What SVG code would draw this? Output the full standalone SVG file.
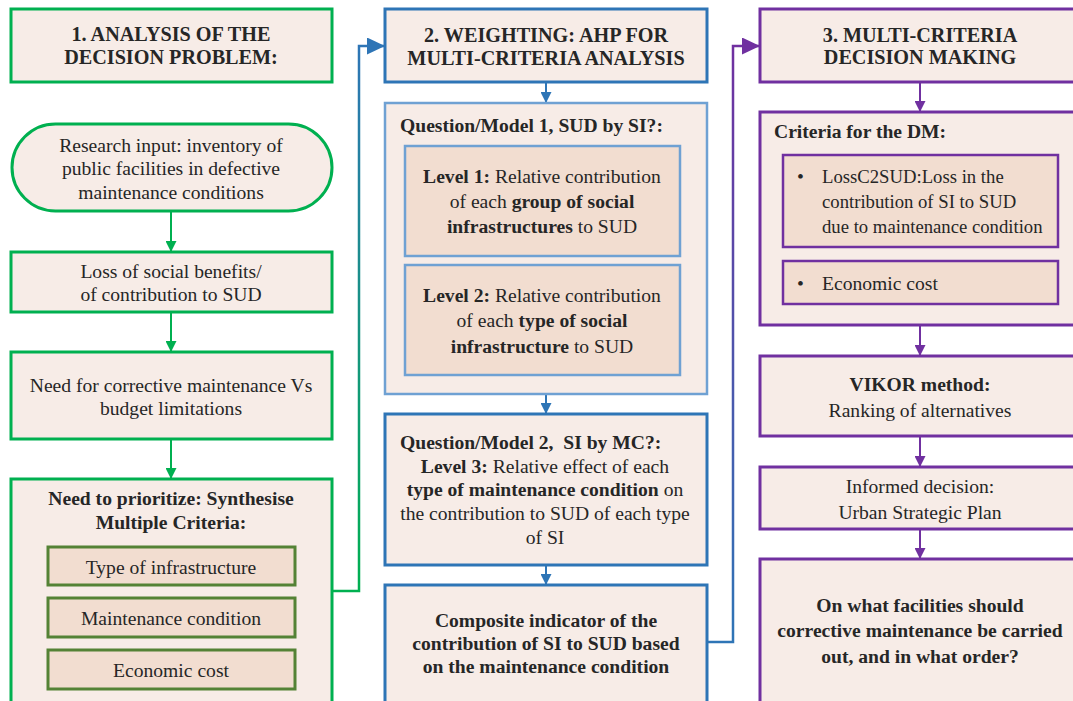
<svg xmlns="http://www.w3.org/2000/svg" width="1073" height="701" viewBox="0 0 1073 701">
<defs>
<style>
text{font-family:'Liberation Serif','Times New Roman',serif;fill:#262626;font-size:19.6px}
.t{font-size:20.2px;font-weight:bold;text-anchor:middle}
.c{text-anchor:middle}
.b{font-weight:bold}
.s{font-size:18.7px}
.g{fill:#F7ECE7;stroke:#00B050;stroke-width:3}
.gi{fill:#F2DDD0;stroke:#548235;stroke-width:3}
.bl{fill:#F7ECE7;stroke:#2E75B6;stroke-width:3}
.bl2{fill:#F7ECE7;stroke:#6FA1D3;stroke-width:2.5}
.bli{fill:#F2DDD0;stroke:#6FA1D3;stroke-width:2.5}
.p{fill:#F7ECE7;stroke:#7030A0;stroke-width:3}
.pi{fill:#F2DDD0;stroke:#7030A0;stroke-width:2.5}
.cg{fill:none;stroke:#00B050;stroke-width:2}
.cb{fill:none;stroke:#2E75B6;stroke-width:2}
.cp{fill:none;stroke:#7030A0;stroke-width:2}
</style>
<marker id="ag" markerWidth="11" markerHeight="11" refX="10" refY="5.5" orient="auto" markerUnits="userSpaceOnUse"><path d="M0,0L11,5.5L0,11z" fill="#00B050"/></marker>
<marker id="ab" markerWidth="11" markerHeight="11" refX="10" refY="5.5" orient="auto" markerUnits="userSpaceOnUse"><path d="M0,0L11,5.5L0,11z" fill="#2E75B6"/></marker>
<marker id="ap" markerWidth="11" markerHeight="11" refX="10" refY="5.5" orient="auto" markerUnits="userSpaceOnUse"><path d="M0,0L11,5.5L0,11z" fill="#7030A0"/></marker>
<marker id="abL" markerWidth="18" markerHeight="17" refX="17" refY="8.5" orient="auto" markerUnits="userSpaceOnUse"><path d="M0,0L18,8.5L0,17z" fill="#2E75B6"/></marker>
<marker id="apL" markerWidth="18" markerHeight="17" refX="17" refY="8.5" orient="auto" markerUnits="userSpaceOnUse"><path d="M0,0L18,8.5L0,17z" fill="#7030A0"/></marker>
<linearGradient id="gb" gradientUnits="userSpaceOnUse" x1="0" y1="591" x2="0" y2="46"><stop offset="0" stop-color="#00B050"/><stop offset="1" stop-color="#2E75B6"/></linearGradient>
<linearGradient id="bp" gradientUnits="userSpaceOnUse" x1="0" y1="642" x2="0" y2="46"><stop offset="0" stop-color="#2E75B6"/><stop offset="1" stop-color="#7030A0"/></linearGradient>
</defs>

<g id="connectors">
<path class="cg" d="M171,211V251" marker-end="url(#ag)"/>
<path class="cg" d="M171,312V351" marker-end="url(#ag)"/>
<path class="cg" d="M171,439V478" marker-end="url(#ag)"/>
<path d="M332,591H359V46H384" fill="none" stroke="url(#gb)" stroke-width="2.5" marker-end="url(#abL)"/>
<path class="cb" d="M546,82V102" marker-end="url(#ab)"/>
<path class="cb" d="M546,394V413" marker-end="url(#ab)"/>
<path class="cb" d="M546,565V584" marker-end="url(#ab)"/>
<path d="M707,642H733V46H759" fill="none" stroke="url(#bp)" stroke-width="2.5" marker-end="url(#apL)"/>
<path class="cp" d="M920,82V111" marker-end="url(#ap)"/>
<path class="cp" d="M920,325V355" marker-end="url(#ap)"/>
<path class="cp" d="M920,436V466" marker-end="url(#ap)"/>
<path class="cp" d="M920,529V558" marker-end="url(#ap)"/>
</g>

<g id="n1-title"><rect class="g" x="11" y="9" width="321" height="73"/>
<text class="t" x="171" y="41">1. ANALYSIS OF THE</text><text class="t" x="171" y="64">DECISION PROBLEM:</text></g>

<g id="n1-input"><rect class="g" x="12" y="124" width="320" height="87" rx="43.5"/>
<text class="c" x="171" y="152">Research input: inventory of</text>
<text class="c" x="171" y="175">public facilities in defective</text>
<text class="c" x="171" y="199">maintenance conditions</text></g>

<g id="n1-loss"><rect class="g" x="11" y="252" width="321" height="60"/>
<text class="c" x="171" y="278">Loss of social benefits/</text>
<text class="c" x="171" y="301">of contribution to SUD</text></g>

<g id="n1-need"><rect class="g" x="11" y="352" width="321" height="87"/>
<text class="c" x="171" y="392">Need for corrective maintenance Vs</text>
<text class="c" x="171" y="415">budget limitations</text></g>

<g id="n1-prioritize"><rect class="g" x="11" y="479" width="321" height="240"/>
<text class="c b" x="171" y="505">Need to prioritize: Synthesise</text>
<text class="c b" x="171" y="529">Multiple Criteria:</text></g>
<g id="n1-type"><rect class="gi" x="48" y="547" width="247" height="38"/><text class="c" x="171" y="574">Type of infrastructure</text></g>
<g id="n1-maint"><rect class="gi" x="48" y="598" width="247" height="39"/><text class="c" x="171" y="625">Maintenance condition</text></g>
<g id="n1-cost"><rect class="gi" x="48" y="650" width="247" height="39"/><text class="c" x="171" y="677">Economic cost</text></g>

<g id="n2-title"><rect class="bl" x="385" y="9" width="322" height="73"/>
<text class="t" x="546" y="42">2. WEIGHTING: AHP FOR</text><text class="t" x="546" y="65">MULTI-CRITERIA ANALYSIS</text></g>

<g id="n2-q1"><rect class="bl2" x="385" y="103" width="322" height="291"/>
<text class="b" x="400" y="132">Question/Model 1, SUD by SI?:</text></g>
<g id="n2-level1"><rect class="bli" x="405" y="146" width="275" height="110"/>
<text class="c" x="542" y="183"><tspan class="b">Level 1:</tspan> Relative contribution</text>
<text class="c" x="542" y="208">of each <tspan class="b">group of social</tspan></text>
<text class="c" x="542" y="233"><tspan class="b">infrastructures</tspan> to SUD</text></g>
<g id="n2-level2"><rect class="bli" x="405" y="265" width="275" height="110"/>
<text class="c" x="542" y="302"><tspan class="b">Level 2:</tspan> Relative contribution</text>
<text class="c" x="542" y="327">of each <tspan class="b">type of social</tspan></text>
<text class="c" x="542" y="353"><tspan class="b">infrastructure</tspan> to SUD</text></g>

<g id="n2-q2"><rect class="bl" x="385" y="414" width="322" height="151"/>
<text class="b" x="400" y="449" xml:space="preserve">Question/Model 2,  SI by MC?:</text>
<text class="c" x="545" y="473"><tspan class="b">Level 3:</tspan> Relative effect of each</text>
<text class="c" x="545" y="496"><tspan class="b">type of maintenance condition</tspan> on</text>
<text class="c" x="545" y="520">the contribution to SUD of each type</text>
<text class="c" x="545" y="544">of SI</text></g>

<g id="n2-composite"><rect class="bl" x="385" y="585" width="322" height="140"/>
<text class="c b" x="546" y="627">Composite indicator of the</text>
<text class="c b" x="546" y="650">contribution of SI to SUD based</text>
<text class="c b" x="546" y="673">on the maintenance condition</text></g>

<g id="n3-title"><rect class="p" x="760" y="9" width="330" height="73"/>
<text class="t" x="920" y="42">3. MULTI-CRITERIA</text><text class="t" x="920" y="64">DECISION MAKING</text></g>

<g id="n3-criteria"><rect class="p" x="760" y="112" width="330" height="213"/>
<text class="b" x="774" y="138">Criteria for the DM:</text></g>
<g id="n3-loss"><rect class="pi" x="783" y="155" width="275" height="92"/>
<text x="797" y="183">•</text>
<text class="s" x="822" y="183">LossC2SUD:Loss in the</text>
<text class="s" x="822" y="208">contribution of SI to SUD</text>
<text class="s" x="822" y="233">due to maintenance condition</text></g>
<g id="n3-cost"><rect class="pi" x="783" y="261" width="275" height="43"/>
<text x="797" y="290">•</text>
<text x="822" y="290">Economic cost</text></g>

<g id="n3-vikor"><rect class="p" x="760" y="356" width="330" height="80"/>
<text class="c b" x="920" y="391">VIKOR method:</text>
<text class="c" x="920" y="417">Ranking of alternatives</text></g>

<g id="n3-informed"><rect class="p" x="760" y="467" width="330" height="62"/>
<text class="c" x="920" y="493">Informed decision:</text>
<text class="c" x="920" y="519">Urban Strategic Plan</text></g>

<g id="n3-final"><rect class="p" x="760" y="559" width="330" height="160"/>
<text class="c b" x="920" y="612">On what facilities should</text>
<text class="c b" x="920" y="637">corrective maintenance be carried</text>
<text class="c b" x="920" y="663">out, and in what order?</text></g>
</svg>
